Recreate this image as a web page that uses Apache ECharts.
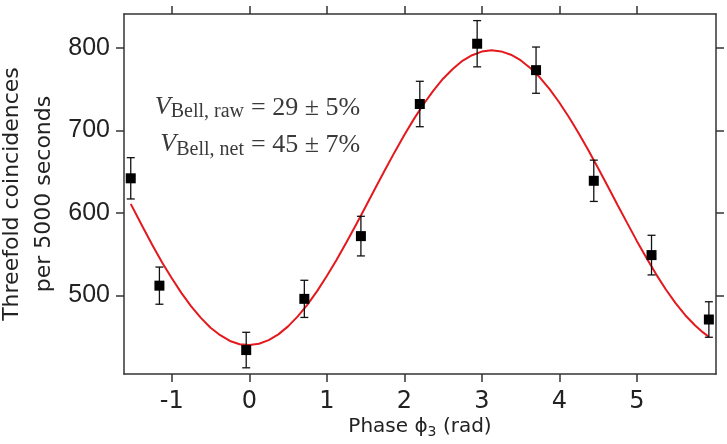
<!DOCTYPE html>
<html><head><meta charset="utf-8">
<script src="https://cdn.jsdelivr.net/npm/echarts@6/dist/echarts.min.js"></script>
<style>html,body{margin:0;padding:0;background:#fff}#c{width:727px;height:444px}</style>
</head><body><div id="c"></div>
<script>
// Measured data points (phase in rad, threefold coincidences per 5000 s)
const phase  = [-1.53, -1.16, -0.04, 0.71, 1.44, 2.20, 2.94, 3.70, 4.445, 5.19, 5.93];
const counts = [642, 512, 434, 496, 572, 732, 805, 773, 639, 549, 471];
const errors = [25, 22.5, 21.5, 22.5, 24, 27.5, 28, 28, 25, 24, 21.5];
// Fitted curve
const fitPhase  = [-1.53, -1.375, -1.25, -1.125, -1.0, -0.875, -0.75, -0.625, -0.5, -0.375, -0.25, -0.125,
                   0, 0.125, 0.25, 0.375, 0.5, 0.625, 0.75, 0.875, 1.0, 1.125, 1.25, 1.375, 1.5, 1.625, 1.75, 1.875,
                   2.0, 2.125, 2.25, 2.375, 2.5, 2.625, 2.75, 2.875, 3.0, 3.125, 3.25, 3.375, 3.5, 3.625, 3.75, 3.875,
                   4.0, 4.125, 4.25, 4.375, 4.5, 4.625, 4.75, 4.875, 5.0, 5.125, 5.25, 5.375, 5.5, 5.625, 5.75, 5.85, 5.93];
const fitCounts = [611, 583, 561, 540, 521, 503, 487, 473, 461, 452, 445, 441,
                   440, 441.6, 446, 453, 462.7, 474.8, 489, 505.4, 523.6, 543, 564, 585.5, 607.6, 630, 652, 673.7,
                   694.4, 714, 732, 748.3, 762.6, 774.3, 784.3, 791.1, 795.5, 797, 795.7, 791.7, 785, 775.7, 764, 750,
                   733.8, 716, 696.7, 676, 654.4, 632.3, 610, 588, 566.2, 545.4, 525.7, 507.3, 490.8, 476.2, 464, 455.7, 450];
// Tick labels
const xTicks = [-1, 0, 1, 2, 3, 4, 5];
const yTicks = [500, 600, 700, 800];

const axisColor = '#333';
const chart = echarts.init(document.getElementById('c'), null, {renderer: 'canvas'});

function xAxisDef(pos, labels) {
  return {
    type: 'value', min: -1.617, max: 6.022, position: pos,
    axisLine: {show: true, onZero: false, lineStyle: {color: axisColor, width: 1.5}},
    axisTick: {show: true, inside: false, length: 8, customValues: xTicks, lineStyle: {color: axisColor, width: 1.5}},
    axisLabel: {show: labels, customValues: xTicks, margin: 16, fontSize: 24, fontFamily: 'DejaVu Sans', color: '#222'},
    splitLine: {show: false}
  };
}
function yAxisDef(pos, labels) {
  return {
    type: 'value', min: 405, max: 841, position: pos,
    axisLine: {show: true, onZero: false, lineStyle: {color: axisColor, width: 1.5}},
    axisTick: {show: true, inside: false, length: 8, customValues: yTicks, lineStyle: {color: axisColor, width: 1.5}},
    axisLabel: {show: labels, customValues: yTicks, margin: 14, fontSize: 25, fontFamily: 'Liberation Sans', color: '#222'},
    splitLine: {show: false}
  };
}

const annColor = '#3a3a3a';
const serifRich = {
  v: {fontFamily: 'Liberation Serif', fontStyle: 'italic', fontSize: 26, lineHeight: 30, fill: annColor},
  s: {fontFamily: 'Liberation Serif', fontSize: 20, lineHeight: 22, verticalAlign: 'bottom', fill: annColor}
};

chart.setOption({
  animation: false,
  backgroundColor: '#fff',
  grid: {left: 124, right: 11, top: 14, bottom: 70, containLabel: false, outerBoundsMode: 'none'},
  xAxis: [xAxisDef('bottom', true), xAxisDef('top', false)],
  yAxis: [yAxisDef('left', true), yAxisDef('right', false)],
  series: [
    {
      type: 'line', xAxisIndex: 0, yAxisIndex: 0, z: 2,
      data: fitPhase.map((x, i) => [x, fitCounts[i]]),
      smooth: false, showSymbol: false, symbol: 'none',
      lineStyle: {color: '#e4191e', width: 2}
    },
    {
      type: 'custom', xAxisIndex: 0, yAxisIndex: 0, z: 3,
      data: phase.map((x, i) => [x, counts[i] - errors[i], counts[i] + errors[i]]),
      encode: {x: 0, y: [1, 2]},
      renderItem: function (params, api) {
        const x = api.value(0);
        const lo = api.coord([x, api.value(1)]);
        const hi = api.coord([x, api.value(2)]);
        const w = 4;
        const st = {stroke: '#111', lineWidth: 1.3};
        return {type: 'group', children: [
          {type: 'line', shape: {x1: lo[0], y1: lo[1], x2: hi[0], y2: hi[1]}, style: st},
          {type: 'line', shape: {x1: lo[0] - w, y1: lo[1], x2: lo[0] + w, y2: lo[1]}, style: st},
          {type: 'line', shape: {x1: hi[0] - w, y1: hi[1], x2: hi[0] + w, y2: hi[1]}, style: st}
        ]};
      }
    },
    {
      type: 'scatter', xAxisIndex: 0, yAxisIndex: 0, z: 4,
      data: phase.map((x, i) => [x, counts[i]]),
      symbol: 'rect', symbolSize: 10,
      itemStyle: {color: '#000', opacity: 1}
    }
  ],
  graphic: [
    {type: 'text', x: 28.5, y: 194, rotation: Math.PI / 2,
     style: {text: 'Threefold coincidences\nper 5000 seconds', fontSize: 22, fontFamily: 'DejaVu Sans',
             lineHeight: 32, fill: '#222', align: 'center', verticalAlign: 'middle'}},
    {type: 'text', x: 420, y: 427,
     style: {text: 'Phase ϕ{s|3} (rad)', fontSize: 20, fontFamily: 'DejaVu Sans', lineHeight: 24,
             fill: '#222', align: 'center', verticalAlign: 'middle',
             rich: {s: {fontSize: 14, fontFamily: 'DejaVu Sans', lineHeight: 10, verticalAlign: 'bottom', fill: '#222'}}}},
    {type: 'text', x: 244, y: 107,
     style: {text: '{v|V}{s|Bell, raw}', rich: serifRich, align: 'right', verticalAlign: 'middle'}},
    {type: 'text', x: 251, y: 108,
     style: {text: '= 29 ± 5%', fontSize: 26, fontFamily: 'Liberation Serif', fill: annColor, align: 'left', verticalAlign: 'middle'}},
    {type: 'text', x: 244, y: 144.5,
     style: {text: '{v|V}{s|Bell, net}', rich: serifRich, align: 'right', verticalAlign: 'middle'}},
    {type: 'text', x: 251, y: 145,
     style: {text: '= 45 ± 7%', fontSize: 26, fontFamily: 'Liberation Serif', fill: annColor, align: 'left', verticalAlign: 'middle'}}
  ]
});
</script>
</body></html>
